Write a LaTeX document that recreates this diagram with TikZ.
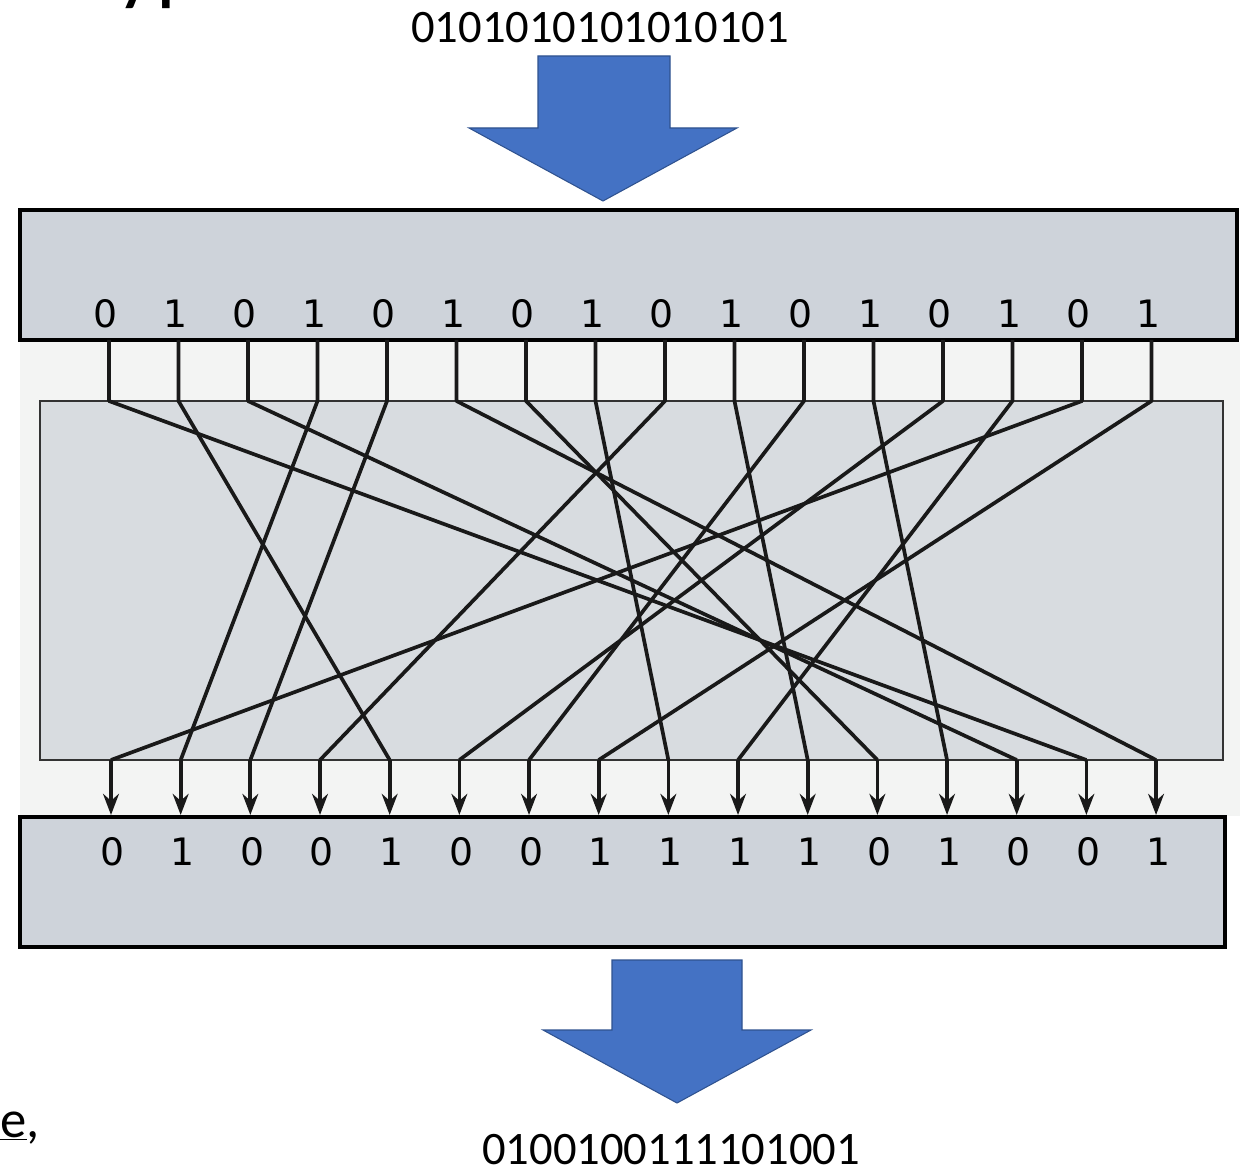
\documentclass[tikz,border=0pt]{standalone}
\usepackage{fontspec}
\setmainfont{Carlito}
\newfontfamily\bitfont{DejaVu Sans}
\usetikzlibrary{arrows.meta, positioning}
\definecolor{boxgrey}{HTML}{CED3DA}
\definecolor{scangrey}{HTML}{D8DCE0}
\definecolor{paper}{HTML}{F3F4F3}
\definecolor{slideblue}{HTML}{4472C4}
\definecolor{slideedge}{HTML}{2F528F}

\begin{document}
\begin{tikzpicture}[x=0.02cm, y=-0.02cm,
  bitbox/.style={draw=black, line width=2.4pt, fill=boxgrey},
  bit/.style={font=\bitfont\fontsize{21.5}{25}\selectfont, inner sep=0pt},
  bitstring/.style={font=\fontsize{26.5}{32}\selectfont, inner sep=0pt},
  wire/.style={line width=2.1pt, line join=round, draw=black!90},
  bigarrow/.style={fill=slideblue, draw=slideedge, line width=0.6pt}]

  \useasboundingbox (0,0) rectangle (1247,1175);
  \fill[white] (0,0) rectangle (1247,1175);

  \node[anchor=base west, inner sep=0pt, font=\fontsize{50}{56}\selectfont] (title) at (116,-5) {yp};
  \node[bitstring] (plain) at (600,28) {0101010101010101};
  \draw[bigarrow] (538,56) -- (670,56) -- (670,128) -- (737,128) -- (603,201) -- (469,128) -- (538,128) -- cycle;

  \fill[paper] (20,342) rectangle (1240,816);
  \draw[fill=scangrey, draw=black!80, line width=1.1pt] (40,401) rectangle (1223,760);
  \draw[bitbox] (20,210) rectangle (1237,340);
  \draw[bitbox] (20,817) rectangle (1225,947);

  \foreach \b [count=\i] in {0,1,0,1,0,1,0,1,0,1,0,1,0,1,0,1} {
    \node[bit] (t\i) at ({106+69.5*(\i-1)},314) {\b};
    \coordinate (s\i) at ({109+69.5*(\i-1)},340);
    \coordinate (j\i) at ({109+69.5*(\i-1)},401);
  }
  \foreach \b [count=\i] in {0,1,0,0,1,0,0,1,1,1,1,0,1,0,0,1} {
    \node[bit] (b\i) at ({113+69.67*(\i-1)},852) {\b};
    \coordinate (k\i) at ({111+69.67*(\i-1)},760);
    \coordinate (a\i) at ({111+69.67*(\i-1)},815);
    \draw[wire, -{Stealth[length=12pt, width=9pt]}] (k\i) -- (a\i);
  }
  \foreach \i/\o in {1/15, 2/5, 3/14, 4/2, 5/3, 6/16, 7/12, 8/9,
                     9/4, 10/11, 11/7, 12/13, 13/6, 14/10, 15/1, 16/8}
    \draw[wire] (s\i) -- (j\i) -- (k\o);

  \draw[bigarrow] (612,960) -- (742,960) -- (742,1030) -- (811,1030) -- (677,1103) -- (543,1030) -- (612,1030) -- cycle;
  \node[bitstring] (cipher) at (671,1150) {0100100111101001};
  \node[anchor=base west, inner sep=0pt, font=\fontsize{30}{36}\selectfont] (frag) at (0,1137) {\underline{e},};
\end{tikzpicture}
\end{document}
